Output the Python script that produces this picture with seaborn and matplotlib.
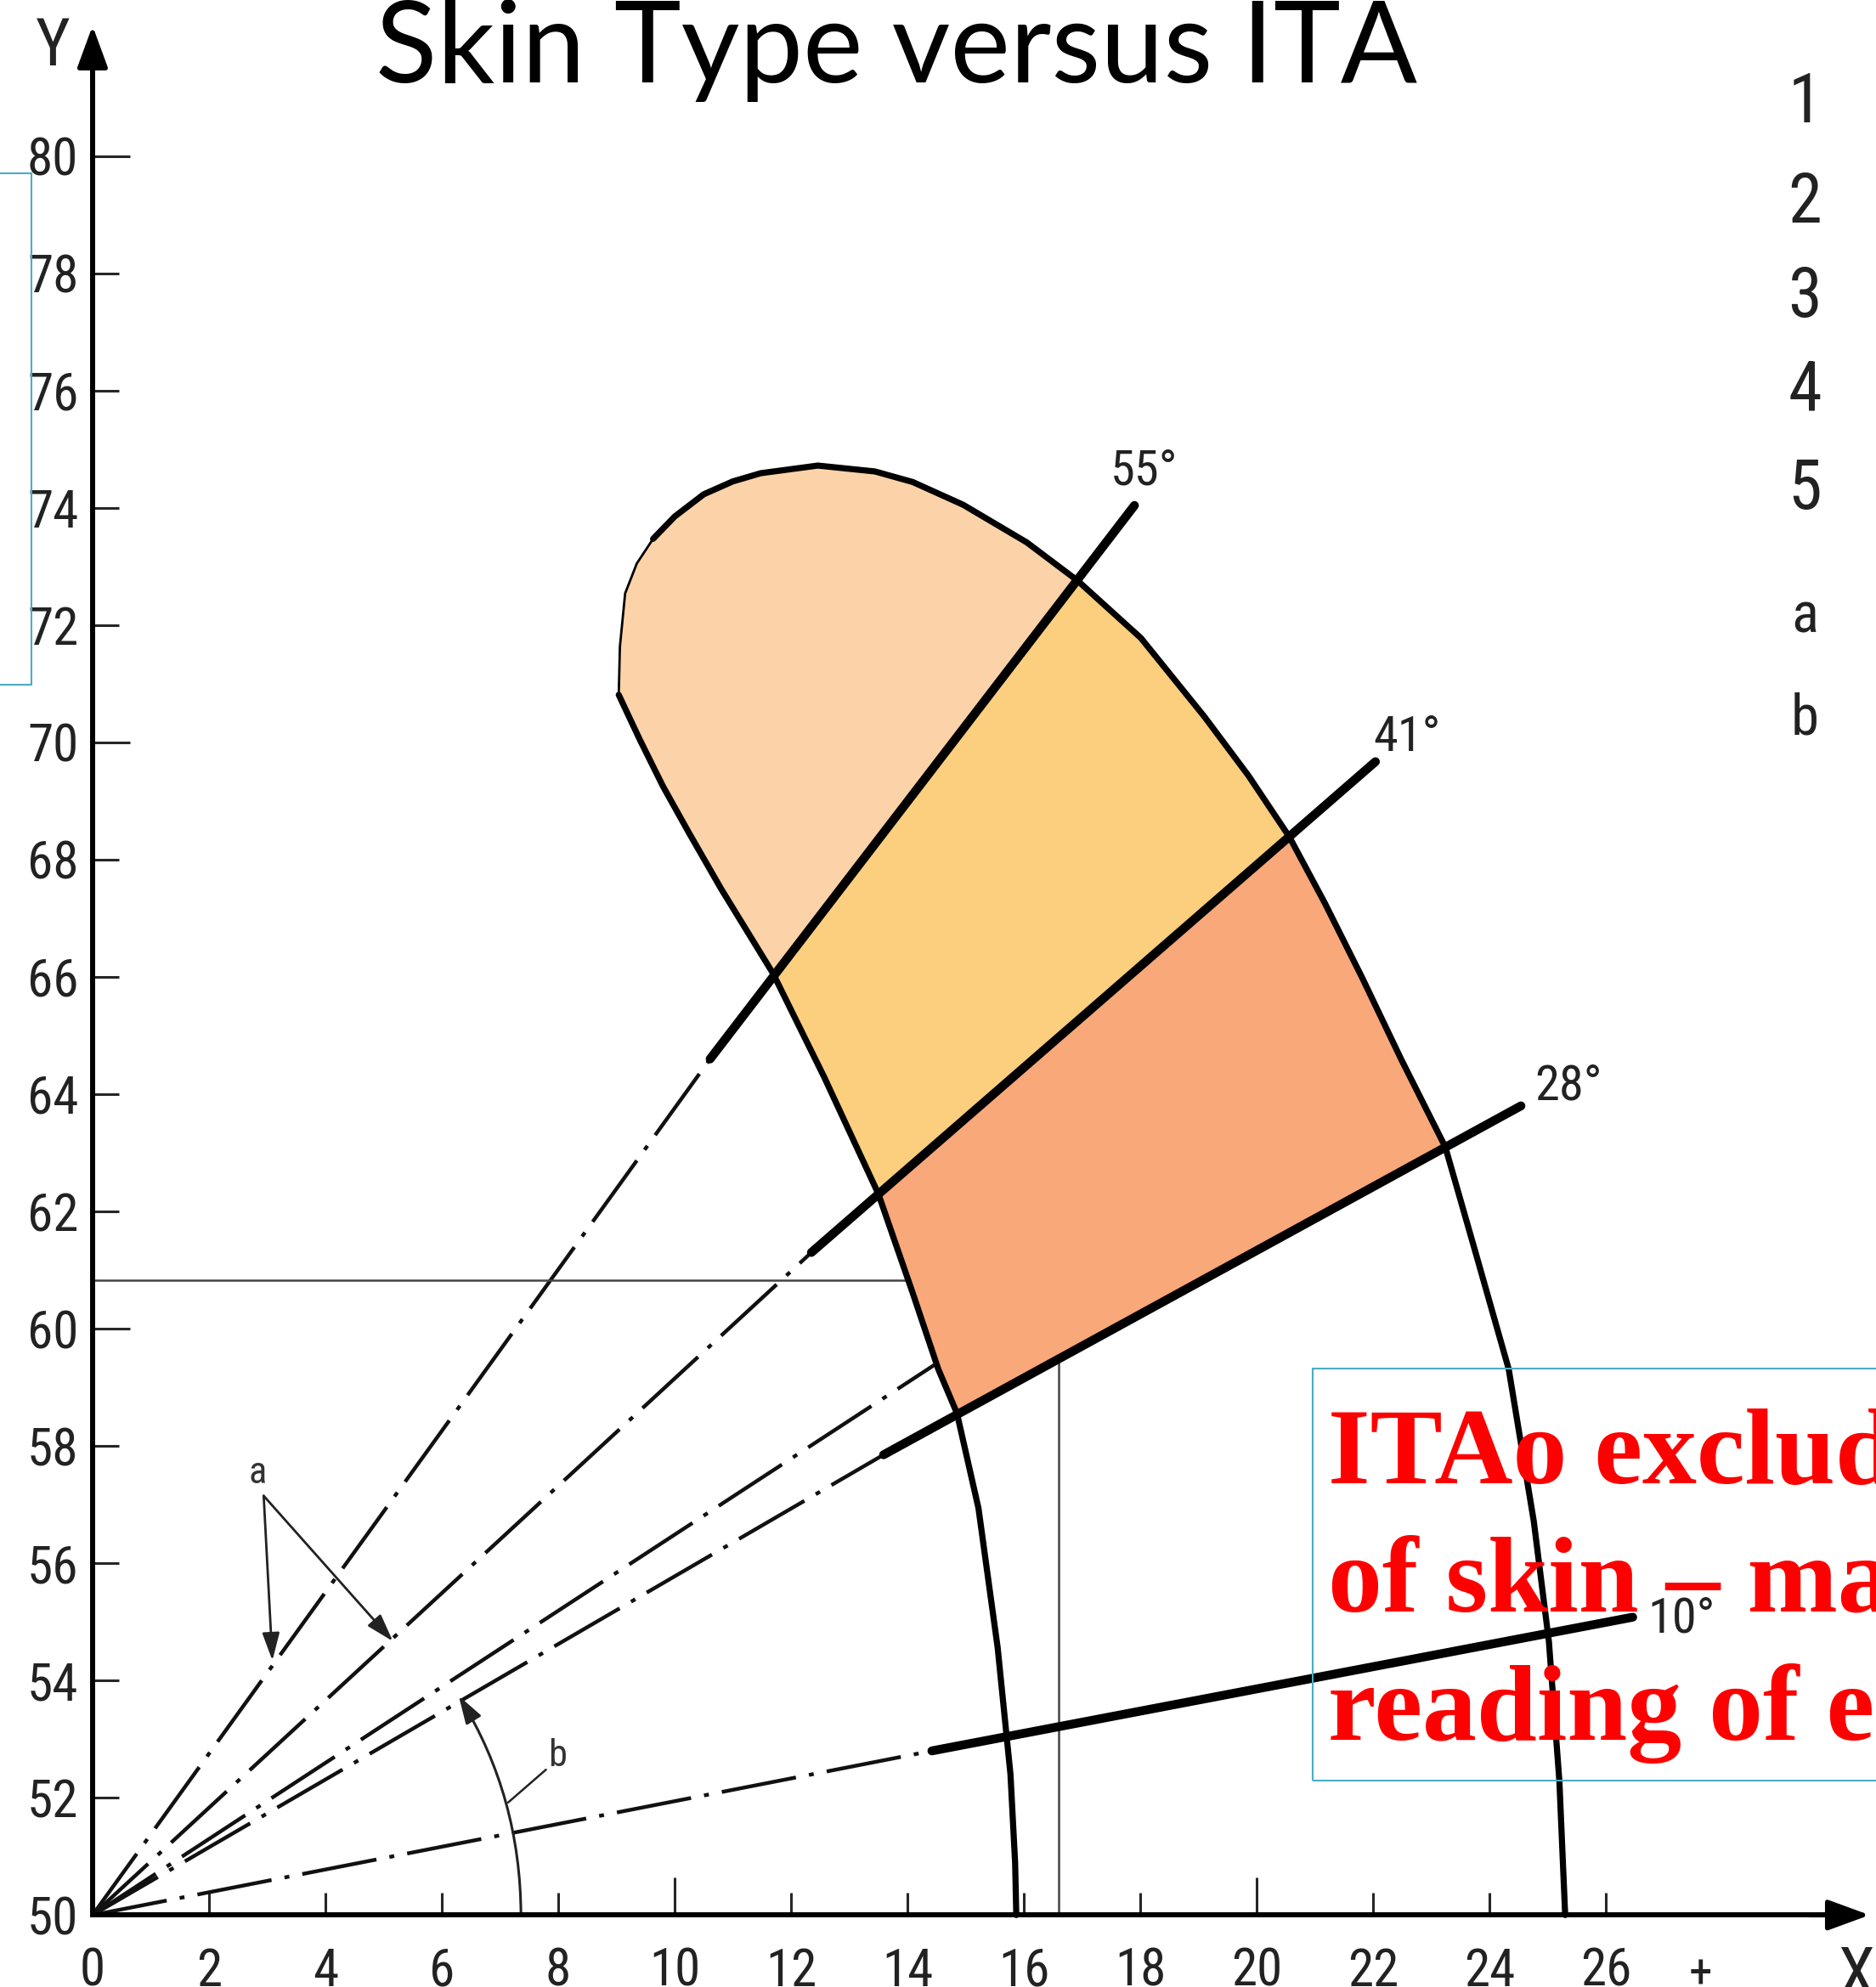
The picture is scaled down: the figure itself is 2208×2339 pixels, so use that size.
import matplotlib
matplotlib.use("Agg")
import matplotlib.pyplot as plt
from matplotlib.patches import Polygon, Rectangle
from matplotlib.ticker import FixedLocator, FixedFormatter
import seaborn as sns

# inner boundary of the colour chart (b*, L*), top -> bottom
inner_x = [9.04, 9.40, 9.80, 10.25, 10.80, 11.69, 12.57, 13.50, 14.09, 14.53, 14.85, 15.22, 15.55, 15.77, 15.85, 15.87]
inner_y = [70.81, 70.05, 69.25, 68.45, 67.50, 66.06, 64.29, 62.30, 60.61, 59.31, 58.56, 56.94, 54.56, 52.40, 50.89, 50.0]
# outer boundary, from the top of the cap down to the b* axis
outer_x = [9.04, 9.06, 9.15, 9.35, 9.63, 10.00, 10.50, 11.00, 11.48, 12.46, 13.44, 14.09, 14.96, 16.05, 16.92,
           18.01, 19.10, 19.86, 20.56, 21.17, 21.82, 22.48, 23.24, 23.74, 24.33, 24.76, 25.02, 25.20, 25.30]
outer_y = [70.81, 71.63, 72.54, 73.05, 73.47, 73.85, 74.23, 74.45, 74.59, 74.72, 74.62, 74.44, 74.05, 73.41, 72.76,
           71.78, 70.44, 69.43, 68.39, 67.26, 65.97, 64.60, 63.10, 61.37, 59.31, 56.72, 54.67, 52.29, 50.0]

# coloured zones: index ranges on outer / inner boundaries
zone_colors = ["#FCD3A8", "#FCCF7E", "#F9A87A"]
zone_outer = [(0, 14), (14, 18), (18, 22)]
zone_inner = [(0, 5), (5, 7), (7, 10)]

# ITA rays from the origin (0, 50)
ray_labels = ["55°", "41°", "28°", "10°"]
ray_start_x = [10.61, 12.35, 13.59, 14.42]
ray_start_y = [64.60, 61.30, 57.85, 52.80]
ray_end_x = [17.90, 22.04, 24.54, 26.46]
ray_end_y = [74.04, 69.67, 63.80, 55.08]
ray_label_x = [18.07, 22.58, 25.35, 27.30]
ray_label_y = [74.62, 70.08, 64.13, 55.04]
extra_ray_x = 14.46
extra_ray_y = 59.38

# reference reading lines
ref_h_y, ref_h_x = 60.83, 13.99
ref_v_x, ref_v_y = 16.60, 59.42

x_ticks = [0, 2, 4, 6, 8, 10, 12, 14, 16, 18, 20, 22, 24, 26]
x_major = [10, 20]
y_ticks = [50, 52, 54, 56, 58, 60, 62, 64, 66, 68, 70, 72, 74, 76, 78, 80]
y_major = [60, 70, 80]

key_labels = ["1", "2", "3", "4", "5", "a", "b"]
key_y = [80.89, 79.19, 77.57, 75.96, 74.30, 72.13, 70.39]

note_lines = ["ITAo exclud", "of skin – ma", "reading of e"]

sns.set_theme(style="white")
narrow = ["Roboto Condensed", "Liberation Sans", "DejaVu Sans"]
plt.rcParams["font.family"] = narrow

fig = plt.figure(figsize=(22.08, 23.39), dpi=100)
ax = fig.add_axes([0, 0, 1, 1])
ax.set_xlim(-1.590, 30.64)
ax.set_ylim(48.773, 82.66)

# zones
for c, (o0, o1), (i0, i1) in zip(zone_colors, zone_outer, zone_inner):
    pts = list(zip(outer_x[o0:o1 + 1], outer_y[o0:o1 + 1]))
    pts += list(zip(inner_x[i0:i1 + 1], inner_y[i0:i1 + 1]))[::-1]
    ax.add_patch(Polygon(pts, closed=True, facecolor=c, edgecolor=c, lw=0.8, zorder=1))

# boundaries
sns.lineplot(x=inner_x, y=inner_y, sort=False, estimator=None, color="black", lw=5.2, ax=ax, zorder=3)
sns.lineplot(x=outer_x[:5], y=outer_y[:5], sort=False, estimator=None, color="black", lw=2.0, ax=ax, zorder=3)
sns.lineplot(x=outer_x[4:], y=outer_y[4:], sort=False, estimator=None, color="black", lw=5.2, ax=ax, zorder=3)

# rays
dashdot = (0, (20, 3.5, 1.3, 3.5))
for sx, sy, ex, ey, lab, lx, ly in zip(ray_start_x, ray_start_y, ray_end_x, ray_end_y,
                                        ray_labels, ray_label_x, ray_label_y):
    ax.plot([0, sx], [50, sy], color="#111111", lw=3.2, linestyle=dashdot, zorder=2)
    ax.plot([sx, ex], [sy, ey], color="black", lw=7.5, solid_capstyle="round", zorder=4)
    ax.text(lx, ly, lab, fontsize=42, color="#222222", ha="center", va="center", zorder=5)
ax.plot([0, extra_ray_x], [50, extra_ray_y], color="#111111", lw=3.2, linestyle=dashdot, zorder=2)

# reading lines
ax.plot([0, ref_h_x], [ref_h_y, ref_h_y], color="#444444", lw=1.8, zorder=2)
ax.plot([ref_v_x, ref_v_x], [50, ref_v_y], color="#444444", lw=1.8, zorder=2)

# a / b annotations
ax.text(2.83, 57.54, "a", fontsize=32, color="#333333", ha="center", va="center")
for tx, ty in [(3.09, 54.34), (5.16, 54.67)]:
    ax.annotate("", xy=(tx, ty), xytext=(2.94, 57.15),
                arrowprops=dict(arrowstyle="-|>,head_length=0.8,head_width=0.25", lw=2.0,
                                color="#222222", mutation_scale=25, shrinkA=0, shrinkB=0))
ax.annotate("", xy=(6.29, 53.74), xytext=(7.36, 50.0),
            arrowprops=dict(arrowstyle="-|>,head_length=0.8,head_width=0.25", lw=2.2,
                            color="#222222", mutation_scale=25, shrinkA=0, shrinkB=0,
                            connectionstyle="arc3,rad=0.14"))
ax.plot([7.14, 7.79], [51.92, 52.48], color="#222222", lw=1.8)
ax.text(7.99, 52.72, "b", fontsize=32, color="#333333", ha="center", va="center")

# axes as arrows with ticks
for s in ["top", "right"]:
    ax.spines[s].set_visible(False)
ax.spines["left"].set_position(("data", 0))
ax.spines["bottom"].set_position(("data", 50))
ax.spines["left"].set_bounds(50, 81.6)
ax.spines["bottom"].set_bounds(0, 29.9)
for s in ["left", "bottom"]:
    ax.spines[s].set_linewidth(4.3)
    ax.spines[s].set_color("black")
    ax.spines[s].set_zorder(6)
ax.annotate("", xy=(0, 82.22), xytext=(0, 81.2),
            arrowprops=dict(arrowstyle="-|>,head_length=0.6,head_width=0.22", lw=4,
                            color="black", mutation_scale=50, shrinkA=0, shrinkB=0))
ax.annotate("", xy=(30.53, 50), xytext=(29.5, 50),
            arrowprops=dict(arrowstyle="-|>,head_length=0.6,head_width=0.22", lw=4,
                            color="black", mutation_scale=50, shrinkA=0, shrinkB=0))

x_minor = [v for v in x_ticks if v not in x_major]
y_minor = [v for v in y_ticks if v not in y_major]
ax.xaxis.set_major_locator(FixedLocator(x_major))
ax.xaxis.set_major_formatter(FixedFormatter([str(v) for v in x_major]))
ax.xaxis.set_minor_locator(FixedLocator(x_minor))
ax.xaxis.set_minor_formatter(FixedFormatter([str(v) for v in x_minor]))
ax.yaxis.set_major_locator(FixedLocator(y_major))
ax.yaxis.set_major_formatter(FixedFormatter([str(v) for v in y_major]))
ax.yaxis.set_minor_locator(FixedLocator(y_minor))
ax.yaxis.set_minor_formatter(FixedFormatter([str(v) for v in y_minor]))
ax.tick_params(axis="x", which="both", direction="in", bottom=True, width=2.2,
               labelsize=44, labelcolor="#222222", pad=27)
ax.tick_params(axis="x", which="major", length=32)
ax.tick_params(axis="x", which="minor", length=19)
ax.tick_params(axis="y", which="both", direction="in", left=True, width=2.2,
               labelsize=44, labelcolor="#222222", pad=12)
ax.tick_params(axis="y", which="major", length=32)
ax.tick_params(axis="y", which="minor", length=22)
ax.text(27.63, 48.98, "+", fontsize=40, color="#222222", ha="center", va="center")
ax.text(-0.68, 81.85, "Y", fontsize=56, color="#222222", ha="center", va="center")
ax.text(30.30, 48.95, "X", fontsize=56, color="#222222", ha="center", va="center")

# key on the right
for lab, ky in zip(key_labels, key_y):
    fs = 58 if lab.isdigit() else 48
    ax.text(29.42, ky, lab, fontsize=fs, color="#222222", ha="center", va="center")

# title
fig.text(0.4778, 0.9585, "Skin Type versus ITA", fontsize=96, family=["Lato", "DejaVu Sans"],
         color="black", ha="center", va="baseline")

# text boxes
fig.patches.append(Rectangle((0.6997, 0.1039), 0.32, 0.2073, transform=fig.transFigure,
                             facecolor="none", edgecolor="#4BACC6", lw=1.5, zorder=7))
fig.patches.append(Rectangle((-0.01, 0.6554), 0.0268, 0.2574, transform=fig.transFigure,
                             facecolor="none", edgecolor="#4BACC6", lw=1.5, zorder=7))
for i, line in enumerate(note_lines):
    fig.text(0.7078, 1 - (1746 + i * 151) / 2339, line, fontsize=92,
             family=["Liberation Serif", "DejaVu Serif"], weight="bold", color="#FF0000",
             ha="left", va="baseline", zorder=8)

fig.savefig("out.png", dpi=100)
plt.close(fig)
